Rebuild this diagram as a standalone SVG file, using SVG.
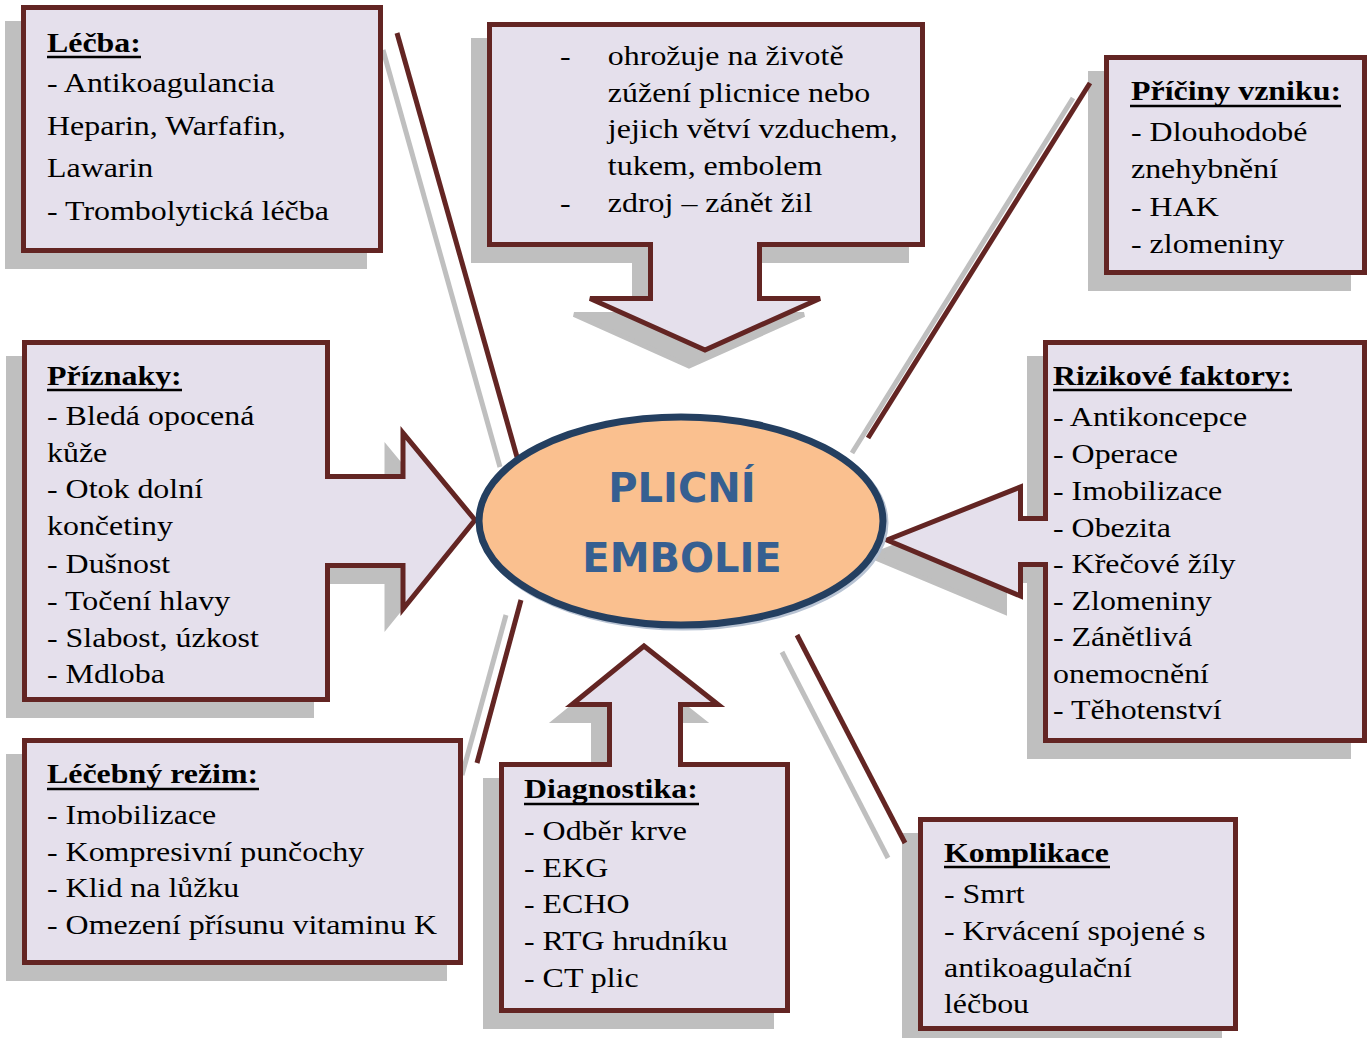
<svg xmlns="http://www.w3.org/2000/svg" width="1371" height="1038" viewBox="0 0 1371 1038">
<defs>
<style>
.shadow{fill:#BFBFBF;stroke:#BFBFBF;stroke-width:5;stroke-linejoin:miter}
.box{fill:#E5E0EC;stroke:#632523;stroke-width:5;stroke-linejoin:miter}
.t{font-family:"Liberation Serif","Times New Roman",serif;font-size:28px;fill:#000}
.b{font-weight:bold}
.ul{stroke:#000;stroke-width:2.5}
.cm{stroke:#632523;stroke-width:5;fill:none}
.cg{stroke:#BFBFBF;stroke-width:5;fill:none}
.center{font-family:"DejaVu Sans",Verdana,sans-serif;font-weight:bold;font-size:40px;fill:#365F91;text-anchor:middle}
</style>
</defs>
<rect width="1371" height="1038" fill="#FFFFFF"/>

<g id="shadows" transform="translate(-16,16)">
  <rect class="shadow" x="23.5" y="7.5" width="357" height="243"/>
  <path class="shadow" d="M489.5,24.5 H922.5 V244.5 H759.5 V298.5 H820 L705,350 L590,298.5 H650.5 V244.5 H489.5 Z"/>
  <rect class="shadow" x="1106.5" y="57.5" width="258" height="215"/>
  <path class="shadow" d="M1045.5,342.5 H1364.5 V740.5 H1045.5 V564.5 H1020.5 V596 L887,540 L1020.5,487 V518.5 H1045.5 Z"/>
  <path class="shadow" d="M24.5,342.5 H327.5 V476.5 H403 V433 L475,520 L403,609 V565.5 H327.5 V699.5 H24.5 Z"/>
  <rect class="shadow" x="24.5" y="740.5" width="436" height="222"/>
  <path class="shadow" d="M501.5,764.5 H609.5 V704.5 H572 L644,646 L718,704.5 H680.5 V764.5 H787.5 V1010.5 H501.5 Z"/>
  <rect class="shadow" x="920.5" y="819.5" width="315" height="209"/>
</g>

<g id="connectors">
  <line class="cg" x1="383" y1="50" x2="500" y2="467"/>
  <line class="cm" x1="397" y1="33" x2="517" y2="457"/>
  <line class="cg" x1="1073" y1="98" x2="852" y2="453"/>
  <line class="cm" x1="1090" y1="83" x2="868" y2="438"/>
  <line class="cg" x1="506" y1="615" x2="462" y2="775"/>
  <line class="cm" x1="521" y1="600" x2="477" y2="763"/>
  <line class="cg" x1="782" y1="652" x2="888" y2="858"/>
  <line class="cm" x1="797" y1="635" x2="905" y2="843"/>
</g>

<g id="node-lecba">
  <rect class="box" x="23.5" y="7.5" width="357" height="243"/>
  <g transform="translate(47,0) scale(1.14,1)">
    <text class="t b" x="0" y="52">Léčba:</text>
    <text class="t" x="0" y="92">- Antikoagulancia</text>
    <text class="t" x="0" y="135">Heparin, Warfafin,</text>
    <text class="t" x="0" y="177">Lawarin</text>
    <text class="t" x="0" y="220">- Trombolytická léčba</text>
  </g>
  <line class="ul" x1="47" y1="57" x2="141" y2="57"/>
</g>

<g id="node-definice">
  <path class="box" d="M489.5,24.5 H922.5 V244.5 H759.5 V298.5 H820 L705,350 L590,298.5 H650.5 V244.5 H489.5 Z"/>
  <g transform="translate(560,0) scale(1.14,1)">
    <text class="t" x="0" y="65">-</text>
    <text class="t" x="42" y="65">ohrožuje na životě</text>
    <text class="t" x="42" y="102">zúžení plicnice nebo</text>
    <text class="t" x="42" y="138">jejich větví vzduchem,</text>
    <text class="t" x="42" y="175">tukem, embolem</text>
    <text class="t" x="0" y="212">-</text>
    <text class="t" x="42" y="212">zdroj – zánět žil</text>
  </g>
</g>

<g id="node-priciny">
  <rect class="box" x="1106.5" y="57.5" width="258" height="215"/>
  <g transform="translate(1131,0) scale(1.14,1)">
    <text class="t b" x="0" y="100">Příčiny vzniku:</text>
    <text class="t" x="0" y="141">- Dlouhodobé</text>
    <text class="t" x="0" y="178">znehybnění</text>
    <text class="t" x="0" y="216">- HAK</text>
    <text class="t" x="0" y="253">- zlomeniny</text>
  </g>
  <line class="ul" x1="1130" y1="106" x2="1341" y2="106"/>
</g>

<g id="node-rizikove">
  <path class="box" d="M1045.5,342.5 H1364.5 V740.5 H1045.5 V564.5 H1020.5 V596 L887,540 L1020.5,487 V518.5 H1045.5 Z"/>
  <g transform="translate(1053,0) scale(1.14,1)">
    <text class="t b" x="0" y="385">Rizikové faktory:</text>
    <text class="t" x="0" y="426">- Antikoncepce</text>
    <text class="t" x="0" y="463">- Operace</text>
    <text class="t" x="0" y="500">- Imobilizace</text>
    <text class="t" x="0" y="537">- Obezita</text>
    <text class="t" x="0" y="573">- Křečové žíly</text>
    <text class="t" x="0" y="610">- Zlomeniny</text>
    <text class="t" x="0" y="646">- Zánětlivá</text>
    <text class="t" x="0" y="683">onemocnění</text>
    <text class="t" x="0" y="719">- Těhotenství</text>
  </g>
  <line class="ul" x1="1053" y1="390" x2="1292" y2="390"/>
</g>

<g id="node-priznaky">
  <path class="box" d="M24.5,342.5 H327.5 V476.5 H403 V433 L475,520 L403,609 V565.5 H327.5 V699.5 H24.5 Z"/>
  <g transform="translate(47,0) scale(1.14,1)">
    <text class="t b" x="0" y="385">Příznaky:</text>
    <text class="t" x="0" y="425">- Bledá opocená</text>
    <text class="t" x="0" y="462">kůže</text>
    <text class="t" x="0" y="498">- Otok dolní</text>
    <text class="t" x="0" y="535">končetiny</text>
    <text class="t" x="0" y="573">- Dušnost</text>
    <text class="t" x="0" y="610">- Točení hlavy</text>
    <text class="t" x="0" y="647">- Slabost, úzkost</text>
    <text class="t" x="0" y="683">- Mdloba</text>
  </g>
  <line class="ul" x1="47" y1="390" x2="182" y2="390"/>
</g>

<g id="node-rezim">
  <rect class="box" x="24.5" y="740.5" width="436" height="222"/>
  <g transform="translate(47,0) scale(1.14,1)">
    <text class="t b" x="0" y="783">Léčebný režim:</text>
    <text class="t" x="0" y="824">- Imobilizace</text>
    <text class="t" x="0" y="861">- Kompresivní punčochy</text>
    <text class="t" x="0" y="897">- Klid na lůžku</text>
    <text class="t" x="0" y="934">- Omezení přísunu vitaminu K</text>
  </g>
  <line class="ul" x1="47" y1="789" x2="259" y2="789"/>
</g>

<g id="node-diagnostika">
  <path class="box" d="M501.5,764.5 H609.5 V704.5 H572 L644,646 L718,704.5 H680.5 V764.5 H787.5 V1010.5 H501.5 Z"/>
  <g transform="translate(524,0) scale(1.14,1)">
    <text class="t b" x="0" y="798">Diagnostika:</text>
    <text class="t" x="0" y="840">- Odběr krve</text>
    <text class="t" x="0" y="877">- EKG</text>
    <text class="t" x="0" y="913">- ECHO</text>
    <text class="t" x="0" y="950">- RTG hrudníku</text>
    <text class="t" x="0" y="987">- CT plic</text>
  </g>
  <line class="ul" x1="524" y1="804" x2="699" y2="804"/>
</g>

<g id="node-komplikace">
  <rect class="box" x="920.5" y="819.5" width="315" height="209"/>
  <g transform="translate(944,0) scale(1.14,1)">
    <text class="t b" x="0" y="862">Komplikace</text>
    <text class="t" x="0" y="903">- Smrt</text>
    <text class="t" x="0" y="940">- Krvácení spojené s</text>
    <text class="t" x="0" y="977">antikoagulační</text>
    <text class="t" x="0" y="1013">léčbou</text>
  </g>
  <line class="ul" x1="944" y1="867" x2="1110" y2="867"/>
</g>

<g id="node-center">
  <ellipse cx="683" cy="523" rx="202" ry="104" fill="#B8C3D3" stroke="#B8C3D3" stroke-width="7"/>
  <ellipse cx="681" cy="521" rx="202" ry="104" fill="#FAC08F" stroke="#243F60" stroke-width="7"/>
  <text class="center" x="682" y="502">PLICNÍ</text>
  <text class="center" x="682" y="572">EMBOLIE</text>
</g>
</svg>
